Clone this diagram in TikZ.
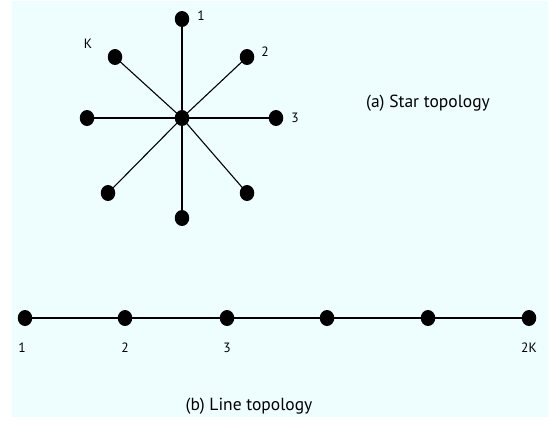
\documentclass[tikz,border=0pt]{standalone}
\usepackage{fontspec}
\setmainfont{PT Sans}
\usetikzlibrary{shapes.geometric}
\definecolor{bgcyan}{HTML}{EEFDFD}
\tikzset{
  dotnode/.style={ellipse,fill=black,minimum width=14.5pt,minimum height=16pt,inner sep=0pt},
  linkline/.style={draw=black,line width=1.1pt},
  numlabel/.style={font=\fontsize{13.5}{15}\selectfont,inner sep=0pt},
  captext/.style={font=\fontsize{17.5}{20}\selectfont,inner sep=0pt}
}
\begin{document}
\begin{tikzpicture}[x=1pt,y=-1pt]
\useasboundingbox (0,0) rectangle (551,424);
\fill[bgcyan] (12,1) rectangle (548,417);
% star
\node[dotnode] (c) at (182,118) {};
\node[dotnode] (s1) at (182,19) {};
\node[dotnode] (s2) at (247,57) {};
\node[dotnode] (s3) at (276,118) {};
\node[dotnode] (s4) at (247,193) {};
\node[dotnode] (s5) at (182,218) {};
\node[dotnode] (s6) at (108,193) {};
\node[dotnode] (s7) at (87,118) {};
\node[dotnode] (sk) at (115,57) {};
\foreach \n in {s1,s2,s3,s4,s5,s6,s7,sk} \draw[linkline] (c.center) -- (\n.center);
\node[numlabel] (l1) at (201,16) {1};
\node[numlabel] (l2) at (265,52) {2};
\node[numlabel] (l3) at (295,118) {3};
\node[numlabel] (lk) at (88,44) {K};
\node[captext] (capa) at (428,103) {(a) Star topology};
% line
\node[dotnode] (a1) at (25,318) {};
\node[dotnode] (a2) at (125,318) {};
\node[dotnode] (a3) at (227,318) {};
\node[dotnode] (a4) at (327,318) {};
\node[dotnode] (a5) at (428,318) {};
\node[dotnode] (a6) at (529,318) {};
\draw[linkline] (a1.center) -- (a2.center) -- (a3.center) -- (a4.center) -- (a5.center) -- (a6.center);
\node[numlabel] (b1) at (22,348) {1};
\node[numlabel] (b2) at (125,348) {2};
\node[numlabel] (b3) at (227,348) {3};
\node[numlabel] (b6) at (529,348) {2K};
\node[captext] (capb) at (249,406) {(b) Line topology};
\end{tikzpicture}
\end{document}
